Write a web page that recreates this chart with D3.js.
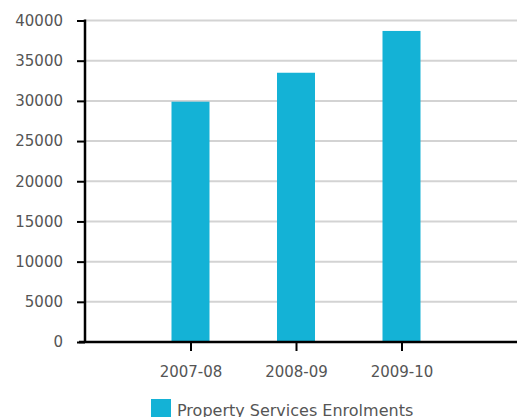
<!DOCTYPE html>
<html>
<head>
<meta charset="utf-8">
<script src="https://cdn.jsdelivr.net/npm/d3@7"></script>
<style>
  body { margin: 0; background: #fff; }
  text { font-family: "DejaVu Sans", sans-serif; fill: #555; }
</style>
</head>
<body>
<svg id="chart" width="517" height="417"></svg>
<script>
// data
const categories = ["2007-08", "2008-09", "2009-10"];
const enrolments = [29900, 33500, 38700];
const yTicks = [0, 5000, 10000, 15000, 20000, 25000, 30000, 35000, 40000];
const seriesName = "Property Services Enrolments";

const svg = d3.select("#chart");
const margin = {left: 85, top: 20.5, bottom: 342, right: 517};
const step = 105.5;

let y = d3.scaleLinear()
    .domain([0, 40000])
    .range([margin.bottom, margin.top]);

let x = d3.scalePoint()
    .domain(categories)
    .range([margin.left + step, margin.left + 3 * step]);

// gridlines
svg.append("g")
    .selectAll("line")
    .data(yTicks.filter(d => d > 0))
    .enter().append("line")
    .attr("x1", margin.left)
    .attr("x2", margin.right)
    .attr("y1", d => y(d))
    .attr("y2", d => y(d))
    .attr("stroke", "#d3d3d3")
    .attr("stroke-width", 2);

// bars
const barW = 38;
svg.append("g")
    .selectAll("rect")
    .data(enrolments)
    .enter().append("rect")
    .attr("x", (d, i) => x(categories[i]) - barW / 2)
    .attr("y", d => y(d))
    .attr("width", barW)
    .attr("height", d => y(0) - y(d))
    .attr("fill", "#14b2d6");

// y axis
let yAxis = d3.axisLeft(y).tickValues(yTicks).tickFormat(d3.format("d")).tickSize(8).tickPadding(14);
let gy = svg.append("g")
    .attr("transform", `translate(${margin.left},0)`)
    .call(yAxis);
gy.select(".domain").remove();
gy.selectAll(".tick line").attr("stroke", "#000").attr("stroke-width", 2);
gy.selectAll("text").style("font-size", "15px").style("font-family", "DejaVu Sans").attr("fill", "#555");
gy.append("line")
    .attr("x1", 0).attr("x2", 0)
    .attr("y1", y(40000) - 1).attr("y2", y(0))
    .attr("stroke", "#000").attr("stroke-width", 2.5);

// x axis
let xAxis = d3.axisBottom(x).tickSize(9).tickPadding(15);
let gx = svg.append("g")
    .attr("transform", `translate(0,${margin.bottom})`)
    .call(xAxis);
gx.select(".domain").remove();
gx.selectAll(".tick line").attr("stroke", "#000").attr("stroke-width", 2);
gx.selectAll("text").style("font-size", "15px").style("font-family", "DejaVu Sans").attr("fill", "#555");
gx.append("line")
    .attr("x1", 79).attr("x2", margin.right)
    .attr("y1", 0).attr("y2", 0)
    .attr("stroke", "#000").attr("stroke-width", 2.5);

// legend
let legend = svg.append("g").attr("transform", "translate(151,399)");
legend.append("rect")
    .attr("width", 20).attr("height", 20)
    .attr("fill", "#14b2d6");
legend.append("text")
    .attr("x", 26).attr("y", 17)
    .style("font-size", "16px")
    .text(seriesName);
</script>
</body>
</html>
